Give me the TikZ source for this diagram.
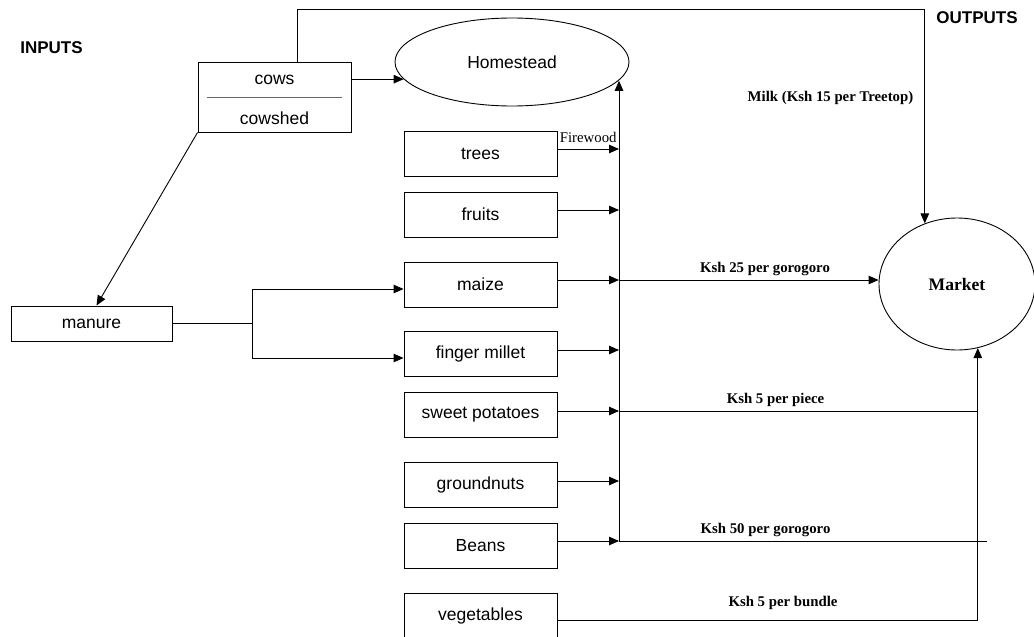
\documentclass[tikz,border=0pt]{standalone}
\usepackage{fontspec}
\setmainfont{Liberation Sans}
\newfontfamily\timesf{Liberation Serif}
\usetikzlibrary{arrows.meta,shapes.geometric}
\begin{document}
\begin{tikzpicture}[x=1pt,y=-1pt,line width=0.9pt,
  boxtxt/.style={inner sep=0pt,font=\fontsize{17.5}{20}\selectfont},
  box/.style={draw,boxtxt,minimum width=153pt,minimum height=45pt},
  arr/.style={-{Triangle[length=10pt,width=8.5pt]}},
  lab/.style={inner sep=0pt,anchor=base,font=\timesf\bfseries\fontsize{14.8}{17}\selectfont},
  head/.style={inner sep=0pt,font=\bfseries\fontsize{17}{20}\selectfont}]
\clip (0,0) rectangle (1034,637);
% headings
\node[head] (inputs) at (51.5,48) {INPUTS};
\node[head] (outputs) at (977,18) {OUTPUTS};
% cows / cowshed
\node[draw,minimum width=153pt,minimum height=70pt,inner sep=0pt] (cowsbox) at (274.5,97) {};
\node[boxtxt] (cows) at (274.5,80) {cows};
\node[boxtxt] (cowshed) at (274.5,118) {cowshed};
\draw[black!60] ([xshift=9pt]cowsbox.west) -- ([xshift=-9pt]cowsbox.east);
% homestead and market
\node[draw,ellipse,minimum width=234pt,minimum height=88pt,inner sep=0pt,
  font=\fontsize{17.5}{20}\selectfont] (home) at (512,62) {Homestead};
\node[draw,ellipse,minimum width=156pt,minimum height=132pt,inner sep=0pt,
  font=\timesf\bfseries\fontsize{17.6}{20}\selectfont] (market) at (957,284) {Market};
% manure
\node[draw,boxtxt,minimum width=161pt,minimum height=35pt] (manure) at (91.5,323.5) {manure};
% crop boxes
\node[box] (trees) at (480.5,153.5) {trees};
\node[box] (fruits) at (480.5,214.5) {fruits};
\node[box] (maize) at (480.5,284.5) {maize};
\node[box] (millet) at (480.5,354) {finger millet};
\node[box] (sweet) at (480.5,415) {sweet potatoes};
\node[box] (ground) at (480.5,485) {groundnuts};
\node[box] (beans) at (480.5,545.5) {Beans};
\node[box] (veg) at (480.5,615.5) {vegetables};
% helper coordinates
\coordinate (col) at (619,541);
\coordinate (cowtop) at (297,9.5);
\coordinate (br) at (252,323.5);
% cows connections
\draw[arr] (cowsbox.east |- home.189.5) -- (home.189.5);
\draw[arr] (cowsbox.north -| cowtop) -- (cowtop) -| (market.118.8);
\draw[arr] (cowsbox.south west) -- ([xshift=5pt]manure.north);
% manure branches
\draw (manure.east) -- (br);
\draw[arr] (br) |- ([yshift=-4.5pt]maize.west);
\draw[arr] (br) |- ([yshift=-4pt]millet.west);
% collector to homestead
\draw[arr] (col) -- (col |- home.350.5);
% outputs from boxes
\path ([yshift=4.5pt]trees.east) coordinate (treesout);
\draw[arr] (treesout) -- (treesout -| col)
  node[midway,above=6pt,inner sep=0pt,font=\timesf\fontsize{14.8}{17}\selectfont] (firewood) {Firewood};
\path ([yshift=4.5pt]fruits.east) coordinate (fruitsout);
\draw[arr] (fruitsout) -- (fruitsout -| col);
\path ([yshift=4.5pt]maize.east) coordinate (maizeout);
\draw[arr] (maizeout) -- (maizeout -| col);
\draw[arr] (maizeout -| col) -- (maizeout -| market.west);
\path ([yshift=4pt]millet.east) coordinate (milletout);
\draw[arr] (milletout) -- (milletout -| col);
\path ([yshift=4pt]sweet.east) coordinate (sweetout);
\draw[arr] (sweetout) -- (sweetout -| col);
\draw (sweetout -| col) -- (sweetout -| market.288.3);
\path ([yshift=4pt]ground.east) coordinate (groundout);
\draw[arr] (groundout) -- (groundout -| col);
\path ([yshift=4.5pt]beans.east) coordinate (beansout);
\draw[arr] (beansout) -- (beansout -| col);
\draw (beansout -| col) -- ++(368,0);
\draw[arr] ([yshift=-4.5pt]veg.east) -| (market.288.3);
% labels
\node[lab] (milk) at (830.5,101) {Milk (Ksh 15 per Treetop)};
\node[lab] (l25) at (765,272) {Ksh 25 per gorogoro};
\node[lab] (l5p) at (775.5,403) {Ksh 5 per piece};
\node[lab] (l50) at (765.5,533) {Ksh 50 per gorogoro};
\node[lab] (l5b) at (783,606) {Ksh 5 per bundle};
\end{tikzpicture}
\end{document}
